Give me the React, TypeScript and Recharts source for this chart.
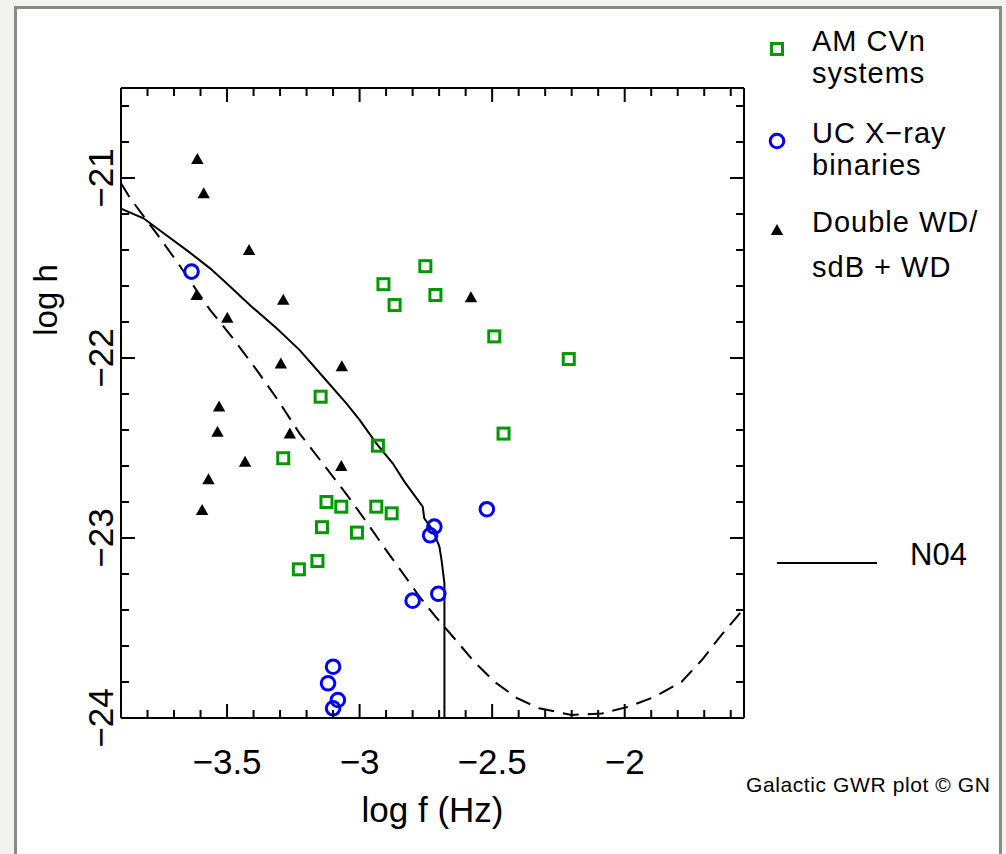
import React from 'react';
import { ComposedChart, Scatter, Line, XAxis, YAxis, Legend, Label } from 'recharts';

// ---- data ----
const amCvnSystems = [
  { x: -2.752, y: -21.49 }, { x: -2.91, y: -21.59 }, { x: -2.868, y: -21.706 },
  { x: -2.714, y: -21.65 }, { x: -2.492, y: -21.88 }, { x: -2.211, y: -22.006 },
  { x: -3.147, y: -22.215 }, { x: -2.457, y: -22.42 }, { x: -2.931, y: -22.487 },
  { x: -3.288, y: -22.557 }, { x: -3.125, y: -22.8 }, { x: -3.069, y: -22.826 },
  { x: -2.937, y: -22.826 }, { x: -2.879, y: -22.863 }, { x: -3.142, y: -22.94 },
  { x: -3.01, y: -22.97 }, { x: -3.159, y: -23.128 }, { x: -3.229, y: -23.174 },
];

const ucXrayBinaries = [
  { x: -3.634, y: -21.52 }, { x: -2.52, y: -22.84 }, { x: -2.718, y: -22.937 },
  { x: -2.734, y: -22.985 }, { x: -2.8, y: -23.348 }, { x: -2.703, y: -23.31 },
  { x: -3.1, y: -23.715 }, { x: -3.119, y: -23.807 }, { x: -3.082, y: -23.9 },
  { x: -3.1, y: -23.946 },
];

const doubleWd = [
  { x: -3.612, y: -20.894 }, { x: -3.588, y: -21.085 }, { x: -3.417, y: -21.4 },
  { x: -3.615, y: -21.65 }, { x: -3.288, y: -21.676 }, { x: -3.499, y: -21.776 },
  { x: -3.297, y: -22.03 }, { x: -3.067, y: -22.046 }, { x: -2.58, y: -21.663 },
  { x: -3.53, y: -22.27 }, { x: -3.536, y: -22.41 }, { x: -3.263, y: -22.42 },
  { x: -3.432, y: -22.576 }, { x: -3.069, y: -22.6 }, { x: -3.57, y: -22.674 },
  { x: -3.594, y: -22.844 },
];

const n04Curve = [
  { x: -3.9, y: -21.17 }, { x: -3.815, y: -21.224 }, { x: -3.739, y: -21.307 },
  { x: -3.645, y: -21.409 }, { x: -3.564, y: -21.502 }, { x: -3.508, y: -21.576 },
  { x: -3.407, y: -21.715 }, { x: -3.313, y: -21.835 }, { x: -3.226, y: -21.956 },
  { x: -3.138, y: -22.104 }, { x: -3.05, y: -22.252 }, { x: -3.0, y: -22.344 },
  { x: -2.937, y: -22.474 }, { x: -2.875, y: -22.585 }, { x: -2.831, y: -22.687 },
  { x: -2.762, y: -22.826 }, { x: -2.756, y: -22.891 }, { x: -2.724, y: -22.956 },
  { x: -2.699, y: -23.048 }, { x: -2.691, y: -23.122 }, { x: -2.68, y: -23.252 },
  { x: -2.68, y: -24.0 },
];

const sensitivityCurve = [
  { x: -3.9, y: -21.03 }, { x: -3.865, y: -21.113 }, { x: -3.771, y: -21.298 },
  { x: -3.689, y: -21.465 }, { x: -3.564, y: -21.733 }, { x: -3.482, y: -21.882 },
  { x: -3.388, y: -22.067 }, { x: -3.31, y: -22.23 }, { x: -3.226, y: -22.42 },
  { x: -3.1, y: -22.66 }, { x: -3.038, y: -22.78 }, { x: -2.975, y: -22.909 },
  { x: -2.9, y: -23.067 }, { x: -2.837, y: -23.196 }, { x: -2.774, y: -23.326 },
  { x: -2.712, y: -23.44 }, { x: -2.643, y: -23.557 }, { x: -2.568, y: -23.687 },
  { x: -2.49, y: -23.8 }, { x: -2.406, y: -23.89 }, { x: -2.323, y: -23.946 },
  { x: -2.2, y: -23.983 }, { x: -2.086, y: -23.975 }, { x: -1.985, y: -23.937 },
  { x: -1.885, y: -23.881 }, { x: -1.785, y: -23.798 }, { x: -1.709, y: -23.678 },
  { x: -1.64, y: -23.548 }, { x: -1.555, y: -23.4 },
];

const xTicks = [
  -3.8, -3.7, -3.6, -3.5, -3.4, -3.3, -3.2, -3.1, -3.0, -2.9, -2.8, -2.7,
  -2.6, -2.5, -2.4, -2.3, -2.2, -2.1, -2.0, -1.9, -1.8, -1.7, -1.6,
];
const xMajorTicks = [-3.5, -3, -2.5, -2];
const yTicks = [
  -24, -23.8, -23.6, -23.4, -23.2, -23, -22.8, -22.6, -22.4, -22.2, -22,
  -21.8, -21.6, -21.4, -21.2, -21, -20.8, -20.6,
];
const yMajorTicks = [-24, -23, -22, -21];

const legendItems = [
  { kind: 'square', lines: ['AM CVn', 'systems'] },
  { kind: 'circle', lines: ['UC X\u2212ray', 'binaries'] },
  { kind: 'triangle', lines: ['Double WD/', 'sdB + WD'] },
];
const curveLegendLabel = 'N04';
const creditText = 'Galactic GWR plot \u00A9 GN';
const xTitle = 'log f (Hz)';
const yTitle = 'log h';

// ---- styles ----
const FONT = '"Liberation Sans", Arial, sans-serif';
const GREEN = '#009a00';
const BLUE = '#0000ff';

const isMajor = (list: number[], v: number) => list.some((m) => Math.abs(m - v) < 1e-6);
const fmt = (v: number) => (v < 0 ? '\u2212' + String(Math.abs(v)) : String(v));

const BottomTick = (p: any) => {
  const { x, y, payload } = p;
  const major = isMajor(xMajorTicks, payload.value);
  return (
    <g>
      <line x1={x} y1={y} x2={x} y2={y - (major ? 14 : 8)} stroke="#000" strokeWidth={2} />
      {major && (
        <text x={x} y={y + 56} textAnchor="middle" fontSize={35} fontFamily={FONT} fill="#000">
          {fmt(payload.value)}
        </text>
      )}
    </g>
  );
};

const TopTick = (p: any) => {
  const { x, y, payload } = p;
  const major = isMajor(xMajorTicks, payload.value);
  return <line x1={x} y1={y} x2={x} y2={y + (major ? 14 : 8)} stroke="#000" strokeWidth={2} />;
};

const LeftTick = (p: any) => {
  const { x, y, payload } = p;
  const major = isMajor(yMajorTicks, payload.value);
  return (
    <g>
      <line x1={x} y1={y} x2={x + (major ? 14 : 8)} y2={y} stroke="#000" strokeWidth={2} />
      {major && (
        <text
          transform={`translate(${x - 8},${y}) rotate(-90)`}
          textAnchor="middle"
          fontSize={35}
          fontFamily={FONT}
          fill="#000"
        >
          {fmt(payload.value)}
        </text>
      )}
    </g>
  );
};

const RightTick = (p: any) => {
  const { x, y, payload } = p;
  const major = isMajor(yMajorTicks, payload.value);
  return <line x1={x} y1={y} x2={x - (major ? 14 : 8)} y2={y} stroke="#000" strokeWidth={2} />;
};

const SquareShape = (p: any) => (
  <rect x={p.cx - 5.5} y={p.cy - 5.5} width={11} height={11} fill="none" stroke={GREEN} strokeWidth={3} />
);
const CircleShape = (p: any) => (
  <circle cx={p.cx} cy={p.cy} r={6.8} fill="none" stroke={BLUE} strokeWidth={3} />
);
const TriangleShape = (p: any) => (
  <polygon
    points={`${p.cx},${p.cy - 6} ${p.cx + 6.2},${p.cy + 5} ${p.cx - 6.2},${p.cy + 5}`}
    fill="#000"
  />
);

const legendMarker = (kind: string, cx: number, cy: number) => {
  if (kind === 'square') return SquareShape({ cx, cy });
  if (kind === 'circle') return CircleShape({ cx, cy });
  return TriangleShape({ cx, cy });
};

const LegendContent = () => {
  const markerY = [39, 131, 220];
  const lineY = [
    [41, 73],
    [133, 165],
    [222, 267],
  ];
  return (
    <svg width={266} height={800} style={{ overflow: 'visible' }}>
      {legendItems.map((item, i) => (
        <g key={i}>
          {legendMarker(item.kind, 37, markerY[i])}
          {item.lines.map((t, j) => (
            <text key={j} x={72} y={lineY[i][j]} fontSize={29} fontFamily={FONT} fill="#000" letterSpacing={1}>
              {t}
            </text>
          ))}
        </g>
      ))}
      <line x1={37} y1={553} x2={137} y2={553} stroke="#000" strokeWidth={2} />
      <text x={170} y={555} fontSize={31} fontFamily={FONT} fill="#000">
        {curveLegendLabel}
      </text>
      <text x={6} y={782} fontSize={21} fontFamily={FONT} fill="#000" letterSpacing={0.6}>
        {creditText}
      </text>
    </svg>
  );
};

export default function App() {
  return (
    <div
      style={{
        position: 'absolute',
        left: 0,
        top: 0,
        width: 1006,
        height: 854,
        overflow: 'hidden',
        background: '#f2f2ee',
      }}
    >
      <div
        style={{
          position: 'absolute',
          left: 14,
          top: 6,
          width: 988,
          height: 900,
          background: '#ffffff',
          border: '3px solid #8a8a8a',
          boxSizing: 'border-box',
        }}
      />
      <div style={{ position: 'absolute', left: 0, top: 0 }}>
        <ComposedChart
          width={1006}
          height={854}
          margin={{ top: 68, right: 242, bottom: 76, left: 61 }}
        >
          <XAxis
            xAxisId="bottom"
            dataKey="x"
            type="number"
            orientation="bottom"
            domain={[-3.9, -1.55]}
            allowDataOverflow
            ticks={xTicks}
            interval={0}
            height={60}
            tickSize={0}
            tickMargin={0}
            tickLine={false}
            tick={<BottomTick />}
            axisLine={{ stroke: '#000', strokeWidth: 2 }}
          >
            <Label
              content={(props: any) => {
                const vb = props.viewBox || { x: 121, y: 718, width: 623 };
                return (
                  <text
                    x={vb.x + vb.width / 2}
                    y={vb.y + 104}
                    textAnchor="middle"
                    fontSize={35}
                    fontFamily={FONT}
                    fill="#000"
                  >
                    {xTitle}
                  </text>
                );
              }}
            />
          </XAxis>
          <XAxis
            xAxisId="top"
            dataKey="x"
            type="number"
            orientation="top"
            domain={[-3.9, -1.55]}
            allowDataOverflow
            ticks={xTicks}
            interval={0}
            height={20}
            tickSize={0}
            tickMargin={0}
            tickLine={false}
            tick={<TopTick />}
            axisLine={{ stroke: '#000', strokeWidth: 2 }}
          />
          <YAxis
            yAxisId="left"
            dataKey="y"
            type="number"
            orientation="left"
            domain={[-24, -20.5]}
            allowDataOverflow
            ticks={yTicks}
            interval={0}
            width={60}
            tickSize={0}
            tickMargin={0}
            tickLine={false}
            tick={<LeftTick />}
            axisLine={{ stroke: '#000', strokeWidth: 2 }}
          >
            <Label
              content={(props: any) => {
                const vb = props.viewBox || { x: 61, y: 88 };
                return (
                  <text
                    transform={`translate(${vb.x - 4},${vb.y + 212}) rotate(-90)`}
                    textAnchor="middle"
                    fontSize={33}
                    fontFamily={FONT}
                    fill="#000"
                  >
                    {yTitle}
                  </text>
                );
              }}
            />
          </YAxis>
          <YAxis
            yAxisId="right"
            dataKey="y"
            type="number"
            orientation="right"
            domain={[-24, -20.5]}
            allowDataOverflow
            ticks={yTicks}
            interval={0}
            width={20}
            tickSize={0}
            tickMargin={0}
            tickLine={false}
            tick={<RightTick />}
            axisLine={{ stroke: '#000', strokeWidth: 2 }}
          />
          <Line
            xAxisId="bottom"
            yAxisId="left"
            data={sensitivityCurve}
            dataKey="y"
            type="linear"
            stroke="#000"
            strokeWidth={2}
            strokeDasharray="16 9"
            dot={false}
            activeDot={false}
            isAnimationActive={false}
          />
          <Line
            xAxisId="bottom"
            yAxisId="left"
            data={n04Curve}
            dataKey="y"
            type="linear"
            stroke="#000"
            strokeWidth={2}
            dot={false}
            activeDot={false}
            isAnimationActive={false}
          />
          <Scatter
            xAxisId="bottom"
            yAxisId="left"
            data={doubleWd}
            shape={TriangleShape}
            isAnimationActive={false}
          />
          <Scatter
            xAxisId="bottom"
            yAxisId="left"
            data={amCvnSystems}
            shape={SquareShape}
            isAnimationActive={false}
          />
          <Scatter
            xAxisId="bottom"
            yAxisId="left"
            data={ucXrayBinaries}
            shape={CircleShape}
            isAnimationActive={false}
          />
          <Legend
            layout="horizontal"
            verticalAlign="middle"
            align="center"
            content={<LegendContent />}
            wrapperStyle={{ position: 'absolute', left: 740, top: 10, width: 266, height: 800 }}
          />
        </ComposedChart>
      </div>
    </div>
  );
}
